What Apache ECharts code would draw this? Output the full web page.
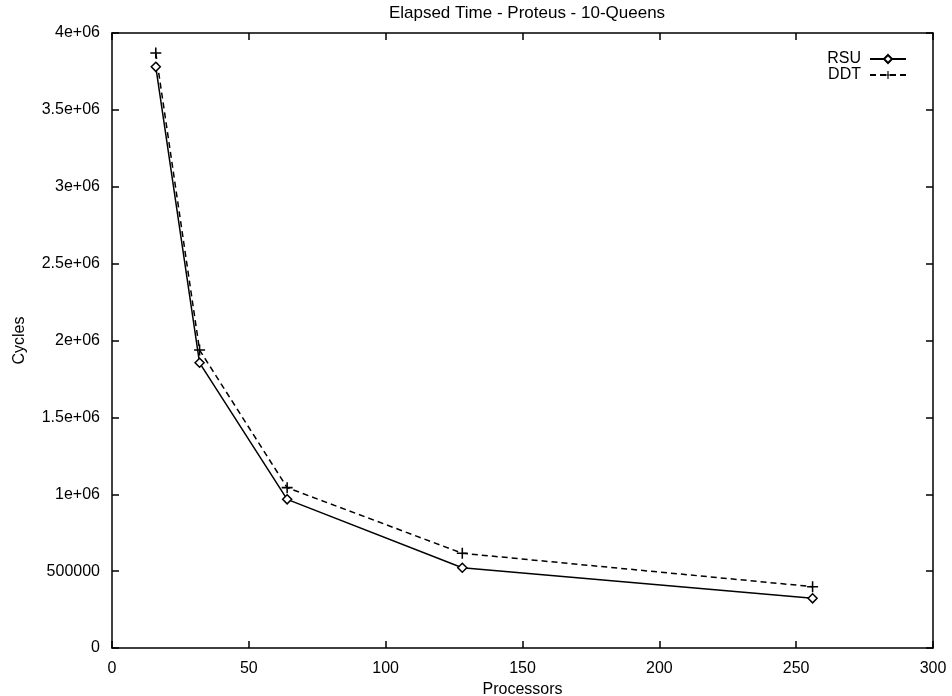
<!DOCTYPE html>
<html>
<head>
<meta charset="utf-8">
<script src="https://cdn.jsdelivr.net/npm/echarts@6/dist/echarts.min.js"></script>
<style>
	html, body { margin: 0; padding: 0; background: #fff; }
	#chart { width: 952px; height: 696px; }
</style>
</head>
<body>
<div id="chart"></div>
<script>
const processors = [16, 32, 64, 128, 256]
const rsuCycles = [3780000, 1855000, 967000, 522000, 323000]
const ddtCycles = [3870000, 1938000, 1043000, 616000, 399000]

const font = 'Liberation Sans, Arial, sans-serif'
const plus = 'path://M4.3,0h1.4v10h-1.4zM0,4.3h10v1.4h-10z'

// gnuplot style labels: 0, 500000, 1e+06, 1.5e+06 ...
function yLabel(v) {
	if (v === 0) return '0'
	if (v < 1000000) return String(v)
	return v / 1000000 + 'e+06'
}

const myChart = echarts.init(document.getElementById('chart'))

const axisLine = { show: true, onZero: false, lineStyle: { color: '#000', width: 1.5 } }
const axisTick = { show: true, inside: true, length: 7, lineStyle: { color: '#000', width: 1.5 } }

const option = {
	backgroundColor: '#fff',
	animation: false,
	title: {
		text: 'Elapsed Time - Proteus - 10-Queens',
		left: 522,
		textAlign: 'center',
		top: 0,
		textStyle: { fontFamily: font, fontSize: 17, fontWeight: 'normal', color: '#000' },
	},
	legend: {
		orient: 'vertical',
		right: 40,
		top: 46,
		align: 'right',
		itemWidth: 36,
		itemHeight: 10,
		itemGap: 0,
		textStyle: { fontFamily: font, fontSize: 16, color: '#000', padding: [0, 4, 0, 0] },
		data: ['RSU', 'DDT'],
	},
	grid: { left: 112, right: 19, top: 33, bottom: 48, containLabel: false, outerBoundsMode: 'none' },
	xAxis: [
		{
			type: 'value',
			min: 0,
			max: 300,
			interval: 50,
			name: 'Processors',
			nameLocation: 'middle',
			nameGap: 32,
			nameTextStyle: { fontFamily: font, fontSize: 16, color: '#000' },
			axisLine: axisLine,
			axisTick: axisTick,
			axisLabel: { fontFamily: font, fontSize: 16, color: '#000', margin: 13 },
			splitLine: { show: false },
		},
		{
			type: 'value',
			position: 'top',
			min: 0,
			max: 300,
			interval: 50,
			axisLine: axisLine,
			axisTick: axisTick,
			axisLabel: { show: false },
			splitLine: { show: false },
		},
	],
	yAxis: [
		{
			type: 'value',
			min: 0,
			max: 4000000,
			interval: 500000,
			name: 'Cycles',
			nameLocation: 'middle',
			nameGap: 84,
			nameTextStyle: { fontFamily: font, fontSize: 16, color: '#000' },
			axisLine: axisLine,
			axisTick: axisTick,
			axisLabel: { fontFamily: font, fontSize: 16, color: '#000', margin: 12, formatter: yLabel },
			splitLine: { show: false },
		},
		{
			type: 'value',
			position: 'right',
			min: 0,
			max: 4000000,
			interval: 500000,
			axisLine: axisLine,
			axisTick: axisTick,
			axisLabel: { show: false },
			splitLine: { show: false },
		},
	],
	series: [
		{
			name: 'RSU',
			type: 'line',
			data: processors.map((p, i) => [p, rsuCycles[i]]),
			symbol: 'diamond',
			symbolSize: 9,
			lineStyle: { color: '#000', width: 1.5, type: 'solid' },
			itemStyle: { color: '#fff', borderColor: '#000', borderWidth: 1.5 },
		},
		{
			name: 'DDT',
			type: 'line',
			data: processors.map((p, i) => [p, ddtCycles[i]]),
			symbol: plus,
			symbolSize: 11,
			lineStyle: { color: '#000', width: 1.5, type: [6, 4] },
			itemStyle: { color: '#000', borderWidth: 0 },
		},
	],
}

myChart.setOption(option)
</script>
</body>
</html>
